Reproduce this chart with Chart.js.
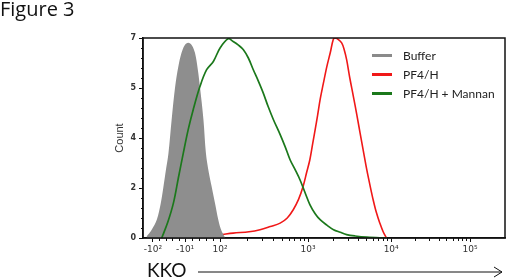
<!DOCTYPE html>
<html>
<head>
<meta charset="utf-8">
<script src="https://cdn.jsdelivr.net/npm/chart.js@4/dist/chart.umd.min.js"></script>
<style>
  html, body { margin: 0; padding: 0; background: #fff; }
  #wrap { position: relative; width: 520px; height: 280px; overflow: hidden; }
  #fig { position: absolute; left: 0px; top: -5px; font: 20px "Open Sans", sans-serif; color: #111; }
  #kko { position: absolute; left: 147px; top: 258px; font: 19px Lato, sans-serif; color: #111; }
  #arrow { position: absolute; left: 0; top: 0; }
  #legend { position: absolute; left: 372px; top: 46px; font: 12px Lato, sans-serif; color: #222; }
  #legend div { height: 19px; display: flex; align-items: center; }
  #legend span.sw { display: inline-block; width: 20px; height: 3px; margin-right: 11px; }
</style>
</head>
<body>
<div id="wrap">
  <canvas id="chart" width="520" height="280"></canvas>
  <div id="fig">Figure 3</div>
  <div id="kko">KKO</div>
  <svg id="arrow" width="520" height="280">
    <line x1="198" y1="272" x2="502" y2="272" stroke="#111" stroke-width="1"/>
    <polyline points="494,267 502,272 494,277" fill="none" stroke="#111" stroke-width="1"/>
  </svg>
  <div id="legend"></div>
</div>
<script>
// x positions are in instrument channels (0-1024), y is Count
const tickChannels = [28, 119, 218, 467, 702, 925];
const tickLabels = ['-10²', '-10¹', '10²', '10³', '10⁴', '10⁵'];
const yTicks = [0, 1.75, 3.5, 5.25, 7];

const seriesNames = ['Buffer', 'PF4/H', 'PF4/H + Mannan'];
const seriesColors = ['#8a8a8a', '#f01818', '#1b781b'];

const bufferX = [10, 25, 39, 50, 58, 65, 72, 81, 91, 100, 109, 118, 128, 138, 147, 155, 161, 171, 178, 186, 194, 204, 213, 222, 232];
const bufferY = [0.05, 0.3, 0.64, 1.2, 1.81, 2.4, 2.97, 4.14, 5.3, 6.0, 6.48, 6.75, 6.83, 6.75, 6.48, 5.9, 5.3, 4.14, 2.97, 2.3, 1.81, 1.2, 0.64, 0.25, 0.02];

const pf4X = [30, 100, 161, 210, 255, 300, 331, 360, 388, 408, 425, 440, 453, 463, 472, 480, 487, 494, 501, 510, 520, 530, 538, 543, 552, 562, 569, 576, 585, 595, 605, 614, 624, 633, 642, 651, 660, 670, 680, 689];
const pf4Y = [0, 0.02, 0.06, 0.1, 0.17, 0.22, 0.29, 0.4, 0.52, 0.7, 0.99, 1.35, 1.81, 2.3, 2.74, 3.3, 3.79, 4.3, 4.84, 5.4, 6.0, 6.5, 6.94, 7.0, 6.95, 6.83, 6.6, 6.24, 5.6, 4.96, 4.3, 3.68, 3.0, 2.39, 1.85, 1.34, 0.9, 0.52, 0.2, 0];

const mannanX = [53, 70, 86, 100, 114, 128, 142, 161, 180, 199, 218, 241, 255, 270, 284, 298, 312, 326, 340, 354, 369, 388, 402, 416, 430, 444, 458, 472, 487, 501, 520, 539, 558, 576, 600, 633, 689];
const mannanY = [0, 0.55, 1.22, 2.1, 2.97, 3.8, 4.49, 5.3, 5.89, 6.18, 6.65, 6.97, 6.88, 6.75, 6.59, 6.3, 5.89, 5.5, 5.08, 4.6, 4.14, 3.62, 3.2, 2.74, 2.4, 2.04, 1.6, 1.17, 0.85, 0.64, 0.45, 0.29, 0.2, 0.12, 0.07, 0.03, 0];

const toPoints = (xs, ys) => xs.map((x, i) => ({ x: x, y: ys[i] }));

// frame + minor tick marks: log spacing inside each decade, a few in the linear zone
const minorPlugin = {
  id: 'minor',
  afterDraw(chart) {
    const ctx = chart.ctx;
    const a = chart.chartArea;
    const xs = chart.scales.x;
    const ys = chart.scales.y;
    ctx.save();
    ctx.strokeStyle = '#111';
    ctx.lineWidth = 1.5;
    ctx.strokeRect(a.left, a.top, a.right - a.left, a.bottom - a.top);
    ctx.lineWidth = 1;
    ctx.beginPath();
    for (let d = 2; d < 5; d++) {
      const c0 = tickChannels[d], c1 = tickChannels[d + 1];
      for (let k = 2; k <= 9; k++) {
        const px = Math.round(xs.getPixelForValue(c0 + (c1 - c0) * Math.log10(k))) + 0.5;
        ctx.moveTo(px, a.bottom);
        ctx.lineTo(px, a.bottom + 3);
      }
    }
    for (let i = 0; i < 2; i++) {
      const c0 = tickChannels[i], c1 = tickChannels[i + 1];
      for (let k = 1; k < 5; k++) {
        const px = Math.round(xs.getPixelForValue(c0 + (c1 - c0) * k / 5)) + 0.5;
        ctx.moveTo(px, a.bottom);
        ctx.lineTo(px, a.bottom + 3);
      }
    }
    for (let v = 0.35; v < 7; v += 0.35) {
      const py = Math.round(ys.getPixelForValue(v)) + 0.5;
      ctx.moveTo(a.left, py);
      ctx.lineTo(a.left - 2, py);
    }
    ctx.stroke();
    ctx.restore();
  }
};

const ctx = document.getElementById('chart').getContext('2d');
const chart = new Chart(ctx, {
  type: 'line',
  data: {
    datasets: [
      {
        label: seriesNames[2],
        data: toPoints(mannanX, mannanY),
        borderColor: seriesColors[2],
        borderWidth: 1.7,
        fill: false,
        order: 1
      },
      {
        label: seriesNames[0],
        data: toPoints(bufferX, bufferY),
        borderColor: 'rgba(0,0,0,0)',
        borderWidth: 0,
        backgroundColor: '#8e8e8e',
        fill: 'origin',
        order: 2
      },
      {
        label: seriesNames[1],
        data: toPoints(pf4X, pf4Y),
        borderColor: seriesColors[1],
        borderWidth: 1.6,
        fill: false,
        order: 3
      }
    ]
  },
  options: {
    responsive: false,
    animation: false,
    layout: { padding: { left: 113, top: 38, right: 15, bottom: 22 } },
    elements: { point: { radius: 0 }, line: { tension: 0.35 } },
    plugins: { legend: { display: false }, tooltip: { enabled: false } },
    scales: {
      x: {
        type: 'linear',
        min: 0,
        max: 1024,
        afterFit: s => { s.height = 20; },
        afterBuildTicks: s => { s.ticks = tickChannels.map(v => ({ value: v })); },
        ticks: {
          autoSkip: false,
          maxRotation: 0,
          padding: 2,
          color: '#333',
          font: { family: 'DejaVu Sans', size: 9 },
          callback: v => tickLabels[tickChannels.indexOf(v)]
        },
        grid: { drawOnChartArea: false, tickLength: 4, color: '#111' },
        border: { color: '#111', width: 1.5 }
      },
      y: {
        min: 0,
        max: 7,
        afterFit: s => { s.width = 30; },
        afterBuildTicks: s => { s.ticks = yTicks.map(v => ({ value: v })); },
        ticks: {
          padding: 3,
          color: '#333',
          font: { family: 'DejaVu Sans', size: 8, weight: 'bold' },
          callback: v => String(Math.round(v))
        },
        title: { display: true, text: 'Count', color: '#333', padding: 0, font: { family: 'Liberation Sans', size: 11 } },
        grid: { drawOnChartArea: false, tickLength: 4, color: '#111' },
        border: { color: '#111', width: 1.5 }
      }
    }
  },
  plugins: [minorPlugin]
});

// legend drawn from the series names/colours
const leg = document.getElementById('legend');
seriesNames.forEach((n, i) => {
  const row = document.createElement('div');
  row.innerHTML = '<span class="sw" style="background:' + seriesColors[i] + '"></span>' + n;
  leg.appendChild(row);
});
</script>
</body>
</html>
